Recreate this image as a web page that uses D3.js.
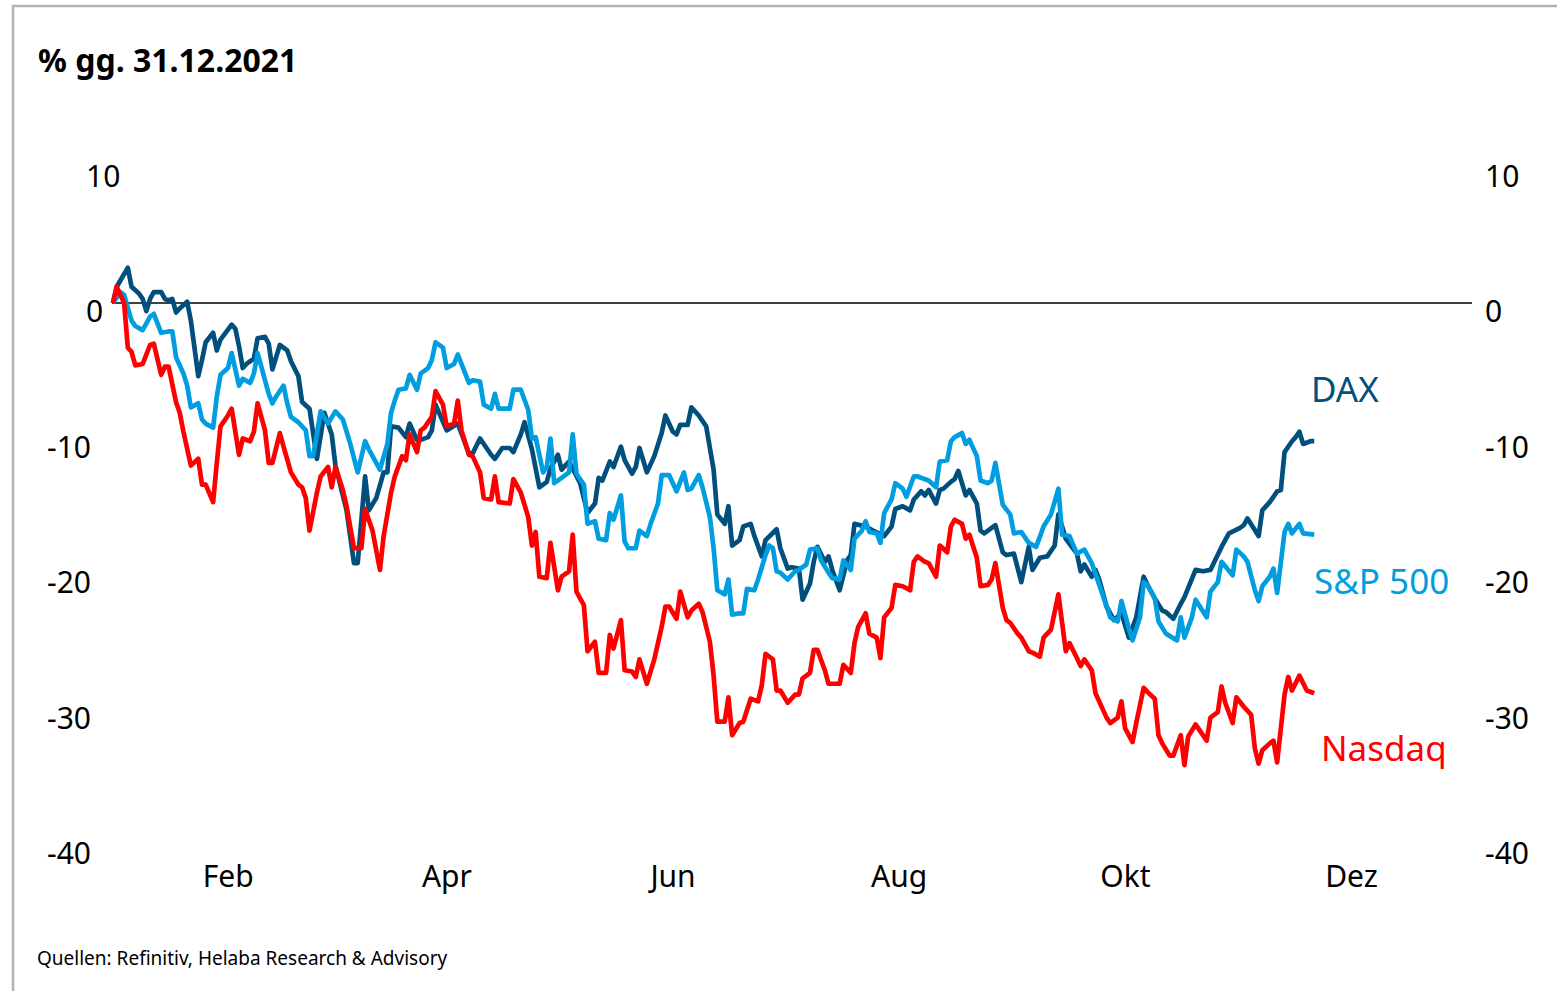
<!DOCTYPE html>
<html>
<head>
<meta charset="utf-8">
<script src="https://d3js.org/d3.v7.min.js"></script>
<style>
  html, body { margin: 0; padding: 0; background: #fff; }
  #chart { width: 1557px; height: 991px; }
</style>
</head>
<body>
<div id="chart"></div>
<script>
// Values in % vs. 31.12.2021, as [day since 31.12.2021, value]
const dax = [[0,0],[1,1.2],[4,2.6],[5,1.2],[7,0.7],[8,0.3],[9,-0.6],[10,0.3],[11,0.8],[13,0.8],[14,0.3],[15,0.2],[16,0.3],[17,-0.7],[18,-0.4],[20,0.1],[21,-1.3],[23,-5.4],[24,-4.2],[25,-2.9],[27,-2.2],[28,-3.5],[29,-2.7],[32,-1.6],[33,-1.9],[34,-3.2],[35,-4.8],[36,-4.5],[38,-4.1],[39,-2.6],[41,-2.5],[42,-3.0],[43,-4.9],[45,-3.1],[47,-3.5],[48,-4.3],[50,-5.4],[51,-7.3],[53,-7.8],[55,-11.5],[57,-8.1],[59,-9.7],[60,-12.0],[63,-15.3],[65,-19.2],[66,-19.2],[68,-12.8],[69,-15.3],[71,-14.4],[73,-12.5],[74,-12.5],[75,-9.1],[77,-9.2],[79,-9.9],[80,-8.9],[82,-10.1],[83,-10.1],[85,-9.9],[86,-9.4],[87,-7.5],[90,-9.4],[93,-8.9],[96,-11.1],[97,-11.1],[99,-10.0],[102,-11.2],[103,-11.5],[105,-10.7],[107,-10.7],[108,-11.0],[110,-9.7],[111,-8.8],[113,-10.8],[115,-13.6],[117,-13.2],[118,-12.2],[120,-11.2],[121,-12.3],[123,-11.7],[126,-13.3],[128,-15.5],[130,-14.8],[131,-12.9],[132,-13.1],[134,-11.7],[135,-12.1],[137,-10.6],[138,-11.6],[140,-12.6],[141,-12.1],[142,-10.7],[144,-12.5],[146,-11.3],[148,-9.6],[149,-8.3],[151,-9.5],[152,-9.7],[153,-9.0],[155,-9.0],[156,-7.7],[158,-8.3],[160,-9.1],[162,-12.3],[163,-15.6],[165,-16.3],[166,-15.0],[167,-17.9],[169,-17.5],[170,-16.5],[172,-16.3],[173,-17.2],[175,-18.7],[176,-17.5],[179,-16.7],[180,-18.1],[182,-19.6],[183,-19.5],[185,-19.6],[186,-21.9],[188,-20.7],[189,-19.1],[190,-18.0],[192,-19.1],[193,-18.7],[194,-19.7],[196,-21.2],[198,-19.0],[199,-18.6],[200,-16.3],[203,-16.5],[205,-16.8],[208,-17.2],[210,-16.5],[211,-15.2],[213,-15.0],[215,-15.3],[216,-14.5],[218,-13.9],[219,-14.2],[220,-13.8],[222,-14.8],[223,-13.8],[224,-13.7],[226,-13.2],[227,-13.0],[228,-12.4],[230,-14.2],[231,-13.8],[233,-14.8],[234,-16.8],[235,-17.0],[237,-16.6],[238,-16.4],[240,-18.4],[241,-18.6],[243,-18.5],[245,-20.6],[247,-18.0],[248,-19.7],[250,-18.8],[252,-18.7],[254,-17.9],[255,-15.6],[257,-17.4],[260,-18.5],[261,-19.8],[262,-19.3],[264,-20.2],[265,-19.7],[266,-20.4],[268,-22.4],[270,-23.4],[272,-22.9],[274,-24.7],[276,-23.2],[278,-20.2],[279,-20.8],[281,-21.8],[283,-22.7],[284,-22.8],[286,-23.3],[288,-22.2],[289,-21.7],[292,-19.7],[294,-19.8],[296,-19.7],[299,-18.0],[301,-17.0],[304,-16.6],[305,-16.4],[306,-15.9],[309,-17.2],[310,-15.3],[312,-14.7],[314,-13.9],[315,-13.8],[316,-11.0],[318,-10.2],[319,-9.9],[320,-9.5],[321,-10.4],[323,-10.2],[324,-10.2]];

const sp500 = [[0,0],[2,0.8],[3,0.6],[5,-1.3],[6,-1.7],[8,-2.0],[10,-1.0],[11,-0.8],[13,-2.2],[15,-2.1],[16,-2.1],[17,-4.0],[19,-5.2],[20,-6.1],[21,-7.7],[23,-7.4],[24,-8.6],[25,-8.9],[27,-9.2],[28,-6.9],[29,-5.3],[31,-4.8],[32,-3.7],[34,-6.1],[35,-5.6],[37,-5.9],[38,-5.2],[39,-3.7],[40,-4.7],[42,-6.7],[43,-7.4],[44,-6.9],[46,-6.1],[47,-7.4],[48,-8.4],[50,-8.8],[52,-9.4],[53,-11.3],[54,-11.3],[56,-8.0],[58,-8.9],[60,-8.0],[62,-8.6],[64,-10.4],[66,-12.5],[68,-10.2],[69,-10.8],[72,-12.3],[74,-10.4],[75,-8.1],[76,-7.2],[77,-6.4],[79,-6.3],[80,-5.3],[82,-6.4],[83,-5.2],[85,-4.8],[86,-4.2],[87,-2.9],[89,-3.3],[90,-4.8],[92,-4.5],[93,-3.8],[95,-5.2],[96,-5.9],[97,-5.7],[99,-5.8],[100,-7.5],[102,-7.8],[103,-6.7],[104,-7.8],[107,-7.8],[108,-6.4],[110,-6.4],[112,-7.9],[113,-10.0],[114,-9.9],[116,-12.5],[117,-12.1],[118,-10.0],[119,-13.3],[121,-12.9],[123,-12.5],[124,-9.7],[125,-12.6],[127,-13.4],[128,-16.3],[130,-16.1],[131,-17.4],[133,-17.5],[134,-15.5],[135,-16.0],[137,-14.2],[138,-17.6],[139,-18.1],[141,-18.1],[142,-16.8],[144,-17.2],[145,-16.3],[147,-14.8],[148,-12.7],[150,-12.7],[152,-13.9],[154,-12.5],[155,-13.8],[156,-13.7],[158,-12.7],[159,-13.6],[161,-15.8],[162,-18.1],[163,-21.2],[165,-21.5],[166,-20.4],[167,-23.0],[169,-22.9],[170,-22.9],[171,-21.1],[173,-21.2],[174,-20.4],[176,-18.6],[177,-17.9],[178,-18.1],[179,-19.8],[180,-19.9],[182,-20.4],[184,-19.8],[185,-19.7],[187,-19.3],[188,-18.2],[190,-18.1],[191,-19.0],[193,-19.9],[194,-20.3],[196,-20.4],[197,-19.0],[199,-19.7],[200,-17.4],[202,-16.8],[203,-16.1],[204,-16.9],[206,-17.0],[207,-17.7],[208,-15.5],[210,-14.5],[211,-13.3],[213,-13.7],[214,-14.3],[216,-12.8],[217,-12.8],[220,-13.1],[222,-13.6],[223,-11.7],[225,-11.6],[226,-10.2],[227,-9.9],[229,-9.6],[230,-10.4],[231,-10.1],[233,-11.3],[234,-13.1],[236,-13.3],[237,-13.1],[238,-11.8],[240,-14.9],[242,-15.6],[243,-17.0],[245,-16.9],[247,-17.7],[249,-18.0],[251,-16.5],[253,-15.6],[255,-13.7],[256,-17.1],[258,-17.2],[260,-18.5],[262,-18.2],[264,-19.2],[266,-20.8],[268,-22.4],[269,-23.2],[271,-23.5],[272,-22.0],[274,-24.0],[275,-24.9],[277,-23.2],[278,-20.6],[279,-20.8],[281,-21.8],[282,-23.5],[284,-24.4],[287,-24.9],[288,-23.2],[289,-24.7],[291,-23.2],[292,-21.9],[295,-23.2],[296,-21.3],[298,-20.6],[299,-19.1],[302,-20.1],[303,-18.2],[305,-18.7],[306,-19.1],[308,-21.2],[309,-22.0],[310,-20.9],[312,-20.2],[313,-19.6],[314,-21.4],[316,-16.9],[317,-16.3],[318,-17.0],[320,-16.3],[321,-17.0],[324,-17.1]];

const nasdaq = [[0,0],[1,1.2],[3,0.0],[4,-3.3],[5,-3.6],[6,-4.6],[8,-4.5],[10,-3.1],[11,-3.0],[13,-5.3],[14,-4.7],[15,-4.7],[17,-7.3],[18,-8.1],[19,-9.5],[21,-12.0],[23,-11.5],[24,-13.4],[25,-13.4],[27,-14.7],[28,-11.8],[29,-9.1],[31,-8.3],[32,-7.8],[34,-11.2],[35,-10.0],[37,-10.2],[38,-9.5],[39,-7.4],[41,-9.4],[42,-11.8],[43,-11.8],[45,-9.6],[46,-10.6],[48,-12.5],[50,-13.4],[51,-13.6],[52,-14.4],[53,-16.8],[55,-14.0],[56,-12.8],[58,-12.1],[59,-13.6],[60,-12.1],[62,-13.8],[63,-15.0],[65,-18.1],[67,-18.1],[68,-15.2],[70,-16.8],[72,-19.7],[73,-17.2],[75,-14.0],[76,-12.8],[78,-11.3],[79,-11.6],[80,-9.7],[82,-11.0],[83,-9.4],[84,-9.2],[86,-8.4],[87,-6.5],[89,-7.5],[90,-9.1],[92,-8.9],[93,-7.2],[94,-9.4],[96,-11.2],[97,-11.3],[99,-12.5],[100,-14.4],[102,-14.5],[103,-12.8],[104,-14.7],[107,-14.8],[108,-13.0],[110,-14.0],[112,-15.8],[113,-17.9],[114,-16.9],[115,-20.2],[117,-20.3],[118,-17.7],[120,-21.2],[121,-20.2],[123,-19.8],[124,-17.1],[125,-21.3],[127,-22.3],[128,-25.7],[130,-25.0],[131,-27.3],[133,-27.3],[134,-24.5],[135,-25.5],[137,-23.4],[138,-27.1],[140,-27.2],[141,-27.6],[142,-26.3],[144,-28.1],[146,-26.3],[148,-23.9],[149,-22.4],[150,-22.4],[152,-23.3],[153,-21.3],[155,-23.2],[156,-22.7],[158,-22.2],[159,-22.8],[161,-25.0],[162,-27.5],[163,-30.9],[165,-30.9],[166,-29.1],[167,-31.9],[169,-31.0],[170,-30.9],[172,-29.2],[174,-29.4],[175,-28.2],[176,-25.9],[178,-26.3],[179,-28.6],[180,-28.6],[182,-29.5],[184,-28.9],[185,-28.9],[186,-27.7],[188,-27.3],[189,-25.6],[190,-25.6],[192,-27.1],[193,-28.1],[196,-28.1],[197,-26.7],[199,-27.3],[200,-25.1],[201,-23.9],[203,-22.9],[204,-24.4],[206,-24.7],[207,-26.2],[208,-23.2],[210,-22.5],[211,-20.8],[213,-20.9],[215,-21.2],[216,-19.1],[217,-18.7],[219,-19.1],[220,-19.2],[222,-20.2],[223,-17.9],[225,-18.4],[226,-16.5],[227,-16.0],[229,-16.3],[230,-17.4],[231,-17.1],[233,-18.8],[234,-20.9],[236,-20.8],[237,-20.4],[238,-19.2],[240,-22.5],[241,-23.4],[242,-23.6],[244,-24.4],[245,-24.7],[247,-25.7],[248,-25.8],[250,-26.1],[251,-24.7],[253,-24.1],[255,-21.5],[257,-25.7],[258,-25.1],[260,-26.2],[261,-26.8],[262,-26.3],[264,-27.1],[265,-28.8],[268,-30.6],[269,-31.0],[271,-30.6],[272,-29.4],[273,-31.4],[275,-32.4],[276,-31.0],[278,-28.4],[279,-28.7],[281,-29.2],[282,-31.9],[283,-32.5],[285,-33.4],[286,-33.4],[288,-31.9],[289,-34.1],[290,-32.0],[292,-31.1],[295,-32.3],[296,-30.6],[298,-30.2],[299,-28.3],[300,-29.5],[302,-31.0],[303,-29.1],[305,-29.8],[307,-30.4],[308,-32.9],[309,-34.0],[310,-33.0],[312,-32.5],[313,-32.3],[314,-33.9],[316,-28.9],[317,-27.6],[318,-28.6],[320,-27.5],[322,-28.6],[324,-28.8]];

const seriesNames = ["DAX", "S&P 500", "Nasdaq"];
const seriesColors = ["#004f7c", "#009ee0", "#ff0000"];
const labelValues = [-6.6, -20.8, -33.1];   // where the end labels sit on the y scale
const yTicks = [10, 0, -10, -20, -30, -40];
const monthLabels = ["Feb", "Apr", "Jun", "Aug", "Okt", "Dez"];

const width = 1557, height = 991;
const base = new Date(2021, 11, 31);
const toDate = d => d3.timeDay.offset(base, d);

const x = d3.scaleTime()
    .domain([base, new Date(2022, 11, 1)])
    .range([113, 1355]);
const y = d3.scaleLinear()
    .domain([-40, 10])
    .range([845, 167.5]);

const font = "'Noto Sans', sans-serif";

const svg = d3.create("svg")
    .attr("width", width)
    .attr("height", height)
    .attr("viewBox", [0, 0, width, height])
    .style("font-family", font);

svg.append("rect").attr("width", width).attr("height", height).attr("fill", "#fff");

// frame lines (left and top)
svg.append("path")
    .attr("d", `M13,${height} V6 H${width}`)
    .attr("fill", "none")
    .attr("stroke", "#b3b3b3")
    .attr("stroke-width", 2.5);

// title
svg.append("text")
    .attr("x", 38).attr("y", 72)
    .style("font-size", "32px")
    .style("font-weight", "bold")
    .attr("fill", "#000")
    .text("% gg. 31.12.2021");

// zero line
svg.append("line")
    .attr("x1", 112).attr("x2", 1472)
    .attr("y1", y(0)).attr("y2", y(0))
    .attr("stroke", "#000")
    .attr("stroke-width", 1.3);

// y tick labels, left and right; text hangs below the tick value
const yLabel = d => String(d);
svg.append("g")
    .selectAll("text")
    .data(yTicks)
    .join("text")
    .attr("x", d => d < 0 ? 91 : 86)
    .attr("y", d => y(d) + 11)
    .attr("dominant-baseline", "middle")
    .attr("text-anchor", d => d < 0 ? "end" : "start")
    .style("font-size", "30px")
    .text(yLabel);

svg.append("g")
    .selectAll("text")
    .data(yTicks)
    .join("text")
    .attr("x", 1485)
    .attr("y", d => y(d) + 11)
    .attr("dominant-baseline", "middle")
    .attr("text-anchor", "start")
    .style("font-size", "30px")
    .text(yLabel);

// x axis: month labels at the start of every second month
const xAxis = d3.axisBottom(x)
    .ticks(d3.timeMonth.filter(d => d.getMonth() % 2 === 1))
    .tickFormat((d, i) => monthLabels[i])
    .tickSize(0);

const gx = svg.append("g")
    .attr("transform", "translate(0,862)")
    .call(xAxis);
gx.select(".domain").remove();
gx.selectAll("text")
    .attr("dx", -4)
    .attr("dy", "0.35em")
    .attr("y", 14)
    .style("font-size", "30px")
    .style("font-family", font)
    .attr("fill", "#000");

// lines
const line = d3.line()
    .x(d => x(toDate(d[0])))
    .y(d => y(d[1]));

svg.append("g")
    .attr("fill", "none")
    .attr("stroke-width", 4.7)
    .attr("stroke-linejoin", "round")
    .selectAll("path")
    .data([dax, sp500, nasdaq])
    .join("path")
    .attr("stroke", (d, i) => seriesColors[i])
    .attr("d", line);

// end labels
svg.append("g")
    .selectAll("text")
    .data(seriesNames)
    .join("text")
    .attr("x", (d, i) => [1311, 1314, 1321][i])
    .attr("y", (d, i) => y(labelValues[i]))
    .attr("dominant-baseline", "middle")
    .attr("fill", (d, i) => seriesColors[i])
    .style("font-size", "35px")
    .text(d => d);

// source note
svg.append("text")
    .attr("x", 37).attr("y", 965)
    .style("font-size", "19px")
    .attr("fill", "#000")
    .text("Quellen: Refinitiv, Helaba Research & Advisory");

document.getElementById("chart").appendChild(svg.node());
</script>
</body>
</html>
